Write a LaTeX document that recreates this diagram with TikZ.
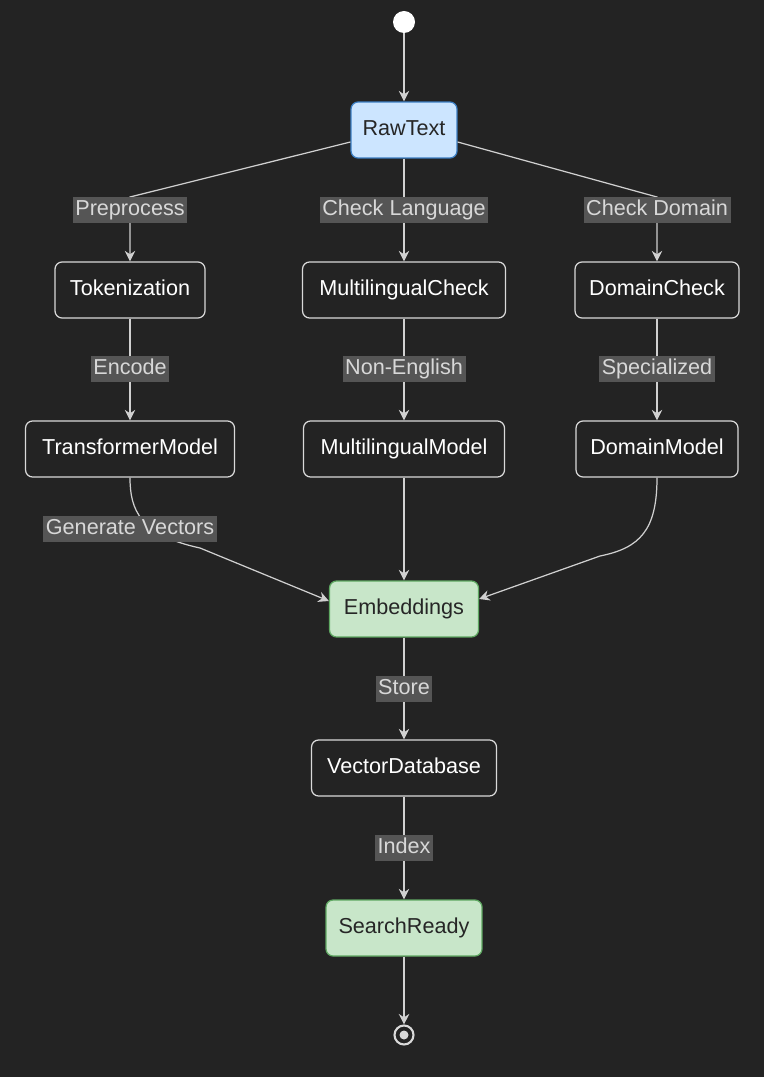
\documentclass[tikz,border=0pt]{standalone}
\usepackage{fontspec}
\setmainfont{Liberation Sans}
\usetikzlibrary{arrows.meta,calc}
\definecolor{bg}{HTML}{232323}
\definecolor{edgecol}{HTML}{D0D0D0}
\definecolor{lblbg}{HTML}{555555}
\definecolor{lbltxt}{HTML}{D8D8D8}
\definecolor{bluefill}{HTML}{CCE5FF}
\definecolor{blueline}{HTML}{3C7FC4}
\definecolor{greenfill}{HTML}{C8E6C9}
\definecolor{greenline}{HTML}{5FA862}
\tikzset{
  state/.style={draw=white!85!black,rounded corners=4pt,minimum height=1.12cm,
    text=white,font=\fontsize{12.3}{14}\selectfont,line width=0.7pt,
    text height=1.6ex,text depth=0.4ex},
  startst/.style={state,fill=bluefill,draw=blueline,text=black!85},
  endst/.style={state,fill=greenfill,draw=greenline,text=black!85},
  lbl/.style={fill=lblbg,text=lbltxt,inner sep=1.5pt,minimum height=0.52cm,
    font=\fontsize{12.3}{14}\selectfont,text height=1.6ex,text depth=0.4ex},
  edge/.style={draw=edgecol,line width=0.7pt,-{Stealth[length=6pt,width=6pt]}}
}
\begin{document}
\begin{tikzpicture}[x=0.02cm,y=-0.02cm]
\fill[bg] (0,0) rectangle (764,1077);
% start and end
\node[circle,fill=white,minimum size=0.44cm,inner sep=0] (init) at (404,22) {};
\node[circle,draw=white!85!black,line width=1.2pt,minimum size=0.38cm,inner sep=0] (fin) at (404,1035) {};
\fill[white!85!black] (fin) circle (4.5);
% states
\node[startst,minimum width=2.12cm] (raw) at (404,130) {RawText};
\node[state,minimum width=3cm] (tok) at (130,290) {Tokenization};
\node[state,minimum width=4.06cm] (mlc) at (404,290) {MultilingualCheck};
\node[state,minimum width=3.28cm] (dmc) at (657,290) {DomainCheck};
\node[state,minimum width=4.18cm] (trm) at (130,449) {TransformerModel};
\node[state,minimum width=4.02cm] (mlm) at (404,449) {MultilingualModel};
\node[state,minimum width=3.24cm] (dmm) at (657,449) {DomainModel};
\node[endst,minimum width=2.98cm] (emb) at (404,609) {Embeddings};
\node[state,minimum width=3.7cm] (vdb) at (404,768) {VectorDatabase};
\node[endst,minimum width=3.12cm] (srd) at (404,928) {SearchReady};
% edges
\draw[edge] (init) -- (raw);
\draw[edge] ([yshift=-0.24cm]raw.west) -- (130,197) -- (tok);
\draw[edge] (raw) -- (mlc);
\draw[edge] ([yshift=-0.24cm]raw.east) -- (657,197) -- (dmc);
\draw[edge] (tok) -- (trm);
\draw[edge] (mlc) -- (mlm);
\draw[edge] (dmc) -- (dmm);
\draw[edge] (trm.south) .. controls (130,510) and (140,535) .. (200,548) -- ([yshift=0.16cm]emb.west);
\draw[edge] (mlm) -- (emb);
\draw[edge] (dmm.south) .. controls (657,530) and (640,548) .. (600,556) -- ([yshift=0.2cm]emb.east);
\draw[edge] (emb) -- (vdb);
\draw[edge] (vdb) -- (srd);
\draw[edge] (srd) -- (fin);
% labels
\node[lbl] (lpre) at (130,210) {Preprocess};
\node[lbl] (llang) at (404,210) {Check Language};
\node[lbl] (ldom) at (657,210) {Check Domain};
\node[lbl] (lenc) at (130,369) {Encode};
\node[lbl] (lnon) at (404,369) {Non-English};
\node[lbl] (lspe) at (657,369) {Specialized};
\node[lbl] (lgen) at (130,529) {Generate Vectors};
\node[lbl] (lsto) at (404,689) {Store};
\node[lbl] (lidx) at (404,848) {Index};
\end{tikzpicture}
\end{document}
